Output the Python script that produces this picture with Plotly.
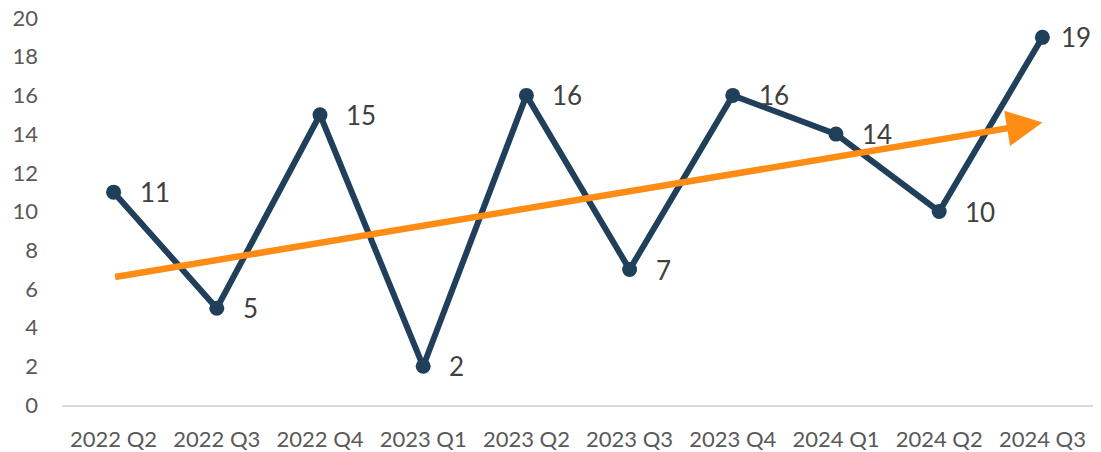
import plotly.graph_objects as go

categories = ["2022 Q2", "2022 Q3", "2022 Q4", "2023 Q1", "2023 Q2",
              "2023 Q3", "2023 Q4", "2024 Q1", "2024 Q2", "2024 Q3"]
values = [11, 5, 15, 2, 16, 7, 16, 14, 10, 19]
trend_start = 6.6
trend_end = 14.6
y_ticks = list(range(0, 21, 2))

navy = "#203F5B"
orange = "#FF8C14"
font = "Lato, 'Open Sans', sans-serif"

fig = go.Figure()
fig.add_trace(go.Scatter(
    x=categories, y=values, mode="lines+markers",
    line=dict(color=navy, width=6),
    marker=dict(color=navy, size=15),
    hoverinfo="skip", showlegend=False, cliponaxis=False,
))

annotations = []
for i, (c, v) in enumerate(zip(categories, values)):
    last = i == len(categories) - 1
    annotations.append(dict(
        x=c, y=v, text=str(v), showarrow=False, xanchor="left", yanchor="middle",
        xshift=17 if last else 24, font=dict(size=26, color="#404040", family=font),
    ))

annotations.append(dict(
    x=len(categories) - 1, y=trend_end, ax=0, ay=trend_start,
    xref="x", yref="y", axref="x", ayref="y",
    showarrow=True, arrowhead=2, arrowsize=1.1, arrowwidth=6.5,
    arrowcolor=orange, text="",
))

# page body has an 8px margin: compensate so the plot area lands where the reference has it
fig.update_layout(
    width=1093, height=444,
    margin=dict(l=54, r=7, t=10, b=47, autoexpand=False),
    paper_bgcolor="white", plot_bgcolor="white",
    annotations=annotations,
    font=dict(family=font, color="#595959", size=22),
    xaxis=dict(
        type="category", categoryorder="array", categoryarray=categories,
        range=[-0.5, len(categories) - 0.5], automargin=False,
        showgrid=False, zeroline=False, showline=True, linecolor="#D9D9D9", linewidth=2,
        ticks="", tickfont=dict(size=22, color="#595959"), ticklabelstandoff=14,
        ticklabeloverflow="allow",
    ),
    yaxis=dict(
        range=[0, 20], tickvals=y_ticks, showgrid=False, zeroline=False, automargin=False,
        showline=False, ticks="", tickfont=dict(size=22, color="#595959"),
        ticklabelstandoff=23, ticklabeloverflow="allow",
    ),
)

fig.write_html("out.html")
